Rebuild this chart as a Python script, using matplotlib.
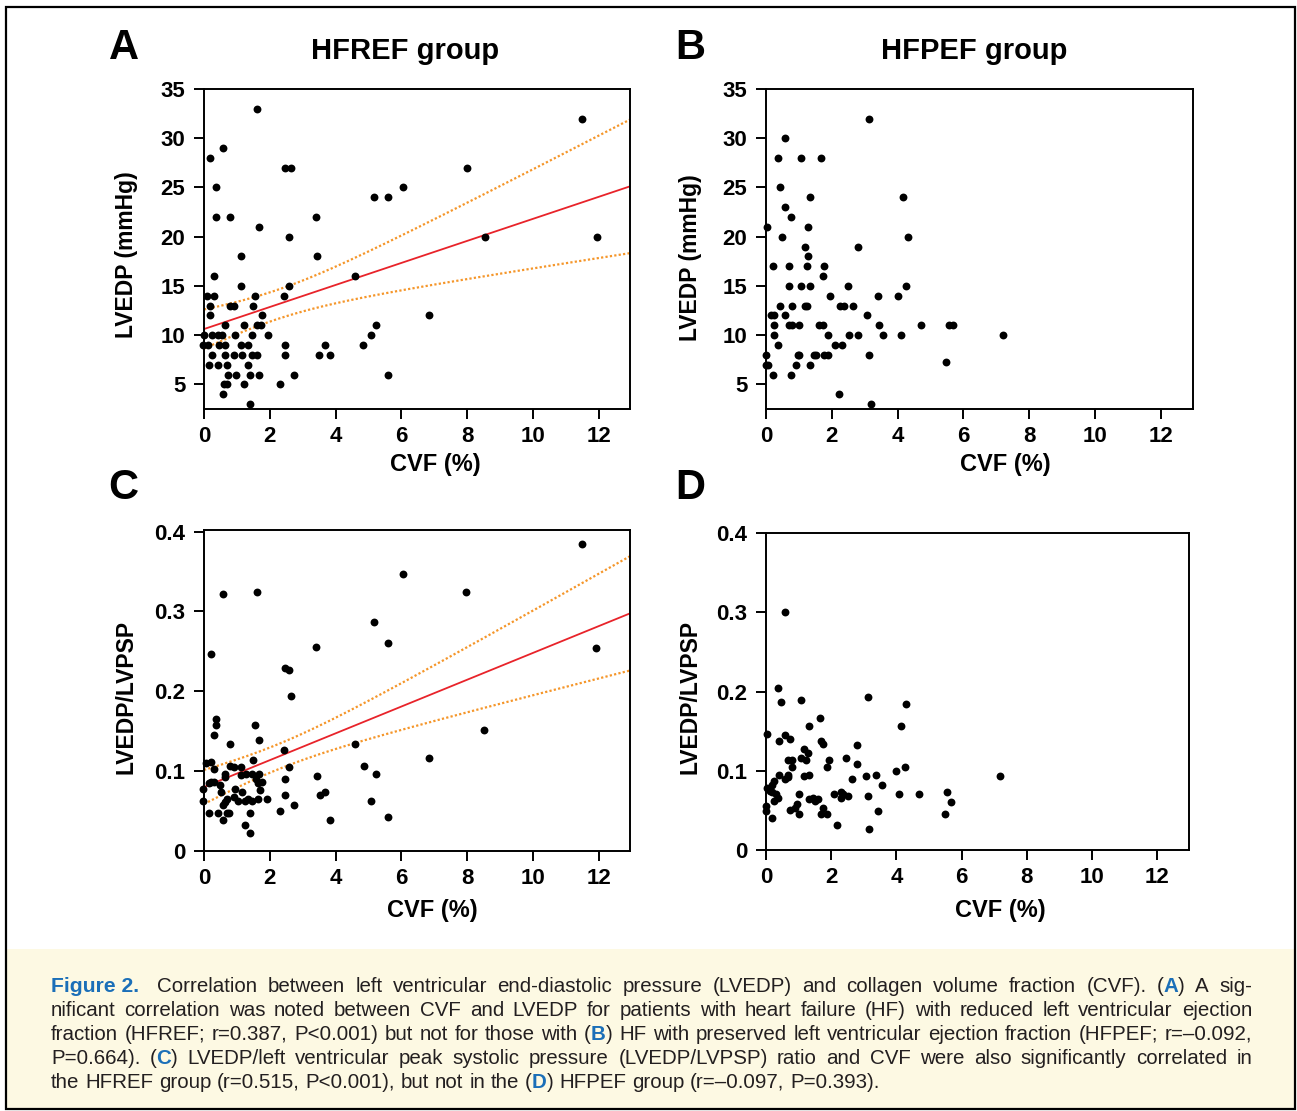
import re
import numpy as np
import matplotlib
matplotlib.use('Agg')
import matplotlib.pyplot as plt
from matplotlib.patches import Rectangle

W, H = 1297, 1111

# ---------------- data ----------------
# Panel A: HFREF, CVF (%) vs LVEDP (mmHg)
hfref_cvf_a = [1.60, 0.58, 0.19, 2.45, 2.63, 0.35, 0.35, 0.78, 1.66, 2.58,
               3.40, 3.44, 1.12, 0.31, 1.12, 2.58, 0.09, 0.31, 1.55, 2.42,
               0.19, 0.78, 0.92, 1.50, 0.19, 1.77, 0.64, 1.23, 1.60, 1.72,
               0.00, 0.25, 0.44, 0.54, 0.95, 1.45, 1.94, -0.03, 0.13, 0.47,
               0.64, 1.12, 1.34, 2.46, 3.67, 0.25, 0.64, 0.91, 1.14, 1.45,
               1.60, 2.47, 3.51, 3.82, 0.14, 0.42, 0.69, 1.34, 0.74, 0.97,
               1.39, 1.66, 2.74, 5.60, 0.61, 0.69, 1.23, 2.31, 0.58, 1.39,
               4.58, 5.18, 5.60, 6.04, 4.84, 5.07, 5.23, 6.85, 8.00, 8.53,
               11.50, 11.94]
hfref_lvedp = [33, 29, 28, 27, 27, 25, 22, 22, 21, 20,
               22, 18, 18, 16, 15, 15, 14, 14, 14, 14,
               13, 13, 13, 13, 12, 12, 11, 11, 11, 11,
               10, 10, 10, 10, 10, 10, 10, 9, 9, 9,
               9, 9, 9, 9, 9, 8, 8, 8, 8, 8,
               8, 8, 8, 8, 7, 7, 7, 7, 6, 6,
               6, 6, 6, 6, 5, 5, 5, 5, 4, 3,
               16, 24, 24, 25, 9, 10, 11, 12, 27, 20,
               32, 20]

# Panel B: HFPEF, CVF (%) vs LVEDP (mmHg)
hfpef_cvf_b = [3.13, 0.58, 0.35, 1.07, 1.67, 0.42, 1.35, 4.15, 0.58, 0.75,
               0.04, 1.28, 0.48, 4.32, 2.81, 1.19, 1.28, 0.20, 0.69, 1.24,
               1.77, 1.72, 0.69, 1.07, 1.35, 2.48, 4.27, 1.94, 3.40, 4.00,
               0.42, 0.80, 1.19, 1.24, 2.26, 2.37, 2.64, 0.14, 0.25, 0.58,
               3.07, 0.25, 0.69, 0.80, 1.01, 1.61, 1.72, 3.45, 4.70, 5.55,
               5.67, 0.25, 1.88, 2.53, 2.81, 3.57, 4.10, 7.19, 0.36, 2.10,
               2.32, 0.00, 0.96, 1.01, 1.45, 1.51, 1.77, 1.88, 3.13, 0.00,
               0.05, 0.91, 1.35, 5.47, 0.20, 0.75, 2.21, 3.18]
hfpef_lvedp = [32, 30, 28, 28, 28, 25, 24, 24, 23, 22,
               21, 21, 20, 20, 19, 19, 18, 17, 17, 17,
               17, 16, 15, 15, 15, 15, 15, 14, 14, 14,
               13, 13, 13, 13, 13, 13, 13, 12, 12, 12,
               12, 11, 11, 11, 11, 11, 11, 11, 11, 11,
               11, 10, 10, 10, 10, 10, 10, 10, 9, 9,
               9, 8, 8, 8, 8, 8, 8, 8, 8, 7,
               7, 7, 7, 7.3, 6, 6, 4, 3]

# Panel C: HFREF, CVF (%) vs LVEDP/LVPSP
hfref_cvf_c = [6.04, 0.58, 1.61, 0.20, 5.18, 5.59, 3.39, 2.46, 2.58, 2.63,
               0.35, 0.36, 0.31, 1.55, 1.66, 0.79, 2.42, 4.58, 1.49, 0.07,
               0.20, 0.29, 0.79, 0.91, 1.13, 0.64, 0.63, 1.12, 1.28, 1.47,
               1.68, 1.58, 2.58, 2.47, 1.76, 1.63, 4.85, 3.44, 5.23, -0.03,
               0.14, 0.21, 0.29, 0.49, 0.95, 1.71, 0.53, 1.17, 3.68, 3.52,
               -0.03, 0.69, 0.91, 1.04, 1.26, 1.34, 1.45, 1.65, 1.93, 0.59,
               0.64, 2.47, 2.74, 5.07, 0.15, 0.42, 0.70, 0.75, 1.39, 2.31,
               0.59, 1.24, 1.39, 3.83, 5.60, 6.85, 7.97, 8.52, 11.49, 11.93]
hfref_ratio = [0.347, 0.322, 0.324, 0.247, 0.287, 0.260, 0.256, 0.229, 0.227, 0.194,
               0.165, 0.158, 0.145, 0.158, 0.139, 0.134, 0.127, 0.134, 0.114, 0.110,
               0.111, 0.103, 0.107, 0.105, 0.105, 0.096, 0.093, 0.095, 0.096, 0.096,
               0.096, 0.090, 0.105, 0.090, 0.087, 0.085, 0.107, 0.094, 0.096, 0.078,
               0.085, 0.087, 0.087, 0.083, 0.078, 0.076, 0.074, 0.074, 0.074, 0.070,
               0.063, 0.065, 0.068, 0.063, 0.063, 0.065, 0.063, 0.065, 0.065, 0.058,
               0.061, 0.070, 0.058, 0.063, 0.048, 0.048, 0.048, 0.048, 0.048, 0.050,
               0.039, 0.032, 0.023, 0.039, 0.043, 0.116, 0.324, 0.152, 0.385, 0.254]

# Panel D: HFPEF, CVF (%) vs LVEDP/LVPSP
hfpef_cvf_d = [0.57, 0.36, 0.46, 1.06, 3.12, 4.30, 1.65, 1.33, 4.13, 0.03,
               0.57, 0.41, 0.74, 1.70, 1.76, 1.17, 1.28, 1.24, 1.06, 0.79,
               0.68, 0.79, 2.79, 1.92, 1.86, 2.46, 2.79, 4.25, 3.98, 0.41,
               0.68, 0.68, 0.57, 1.17, 1.33, 3.07, 3.39, 2.63, 3.55, 7.17,
               0.25, 0.19, 0.13, 0.03, 0.19, 0.30, 0.36, 0.25, 1.01, 2.09,
               2.30, 2.36, 2.53, 2.30, 3.12, 4.09, 4.68, 5.55, 5.67, 1.32,
               1.43, 1.60, 1.49, 0.94, 0.89, 0.74, 1.01, 1.76, 1.70, 1.86,
               3.43, 0.00, 0.00, 0.19, 5.49, 2.19, 3.17]
hfpef_ratio = [0.300, 0.205, 0.187, 0.189, 0.193, 0.184, 0.167, 0.156, 0.156, 0.147,
               0.145, 0.138, 0.140, 0.138, 0.134, 0.127, 0.123, 0.114, 0.116, 0.114,
               0.114, 0.105, 0.132, 0.114, 0.105, 0.116, 0.109, 0.105, 0.100, 0.095,
               0.095, 0.092, 0.089, 0.093, 0.095, 0.093, 0.095, 0.089, 0.082, 0.094,
               0.087, 0.082, 0.075, 0.078, 0.073, 0.071, 0.066, 0.062, 0.071, 0.071,
               0.073, 0.071, 0.068, 0.066, 0.068, 0.071, 0.071, 0.073, 0.060, 0.064,
               0.066, 0.064, 0.062, 0.058, 0.053, 0.051, 0.045, 0.053, 0.046, 0.046,
               0.049, 0.055, 0.049, 0.040, 0.045, 0.031, 0.026]

x_ticks = [0, 2, 4, 6, 8, 10, 12]
lvedp_ticks = [5, 10, 15, 20, 25, 30, 35]
ratio_ticks = [0, 0.1, 0.2, 0.3, 0.4]
ratio_tick_labels = ['0', '0.1', '0.2', '0.3', '0.4']

panel_titles = {'A': 'HFREF group', 'B': 'HFPEF group'}
x_label = 'CVF (%)'
y_label_top = 'LVEDP (mmHg)'
y_label_bottom = 'LVEDP/LVPSP'

caption_lines = [
    "[Figure~2.] Correlation between left ventricular end-diastolic pressure (LVEDP) and collagen volume fraction (CVF). ({A}) A sig-",
    "nificant correlation was noted between CVF and LVEDP for patients with heart failure (HF) with reduced left ventricular ejection",
    "fraction (HFREF; r=0.387, P<0.001) but not for those with ({B}) HF with preserved left ventricular ejection fraction (HFPEF; r=\u20130.092,",
    "P=0.664). ({C}) LVEDP/left ventricular peak systolic pressure (LVEDP/LVPSP) ratio and CVF were also significantly correlated in",
    "the HFREF group (r=0.515, P<0.001), but not in the ({D}) HFPEF group (r=\u20130.097, P=0.393).",
]

# ---------------- styling ----------------
plt.rcParams['font.family'] = ['Liberation Sans', 'DejaVu Sans']
BLUE = '#1b6fb8'
RED = '#e8232a'
ORANGE = '#f5962a'
TXT = '#231f20'

fig = plt.figure(figsize=(W / 100, H / 100), dpi=100)


def px_rect(l, t, r, b):
    return [l / W, 1 - b / H, (r - l) / W, (b - t) / H]


def fx(x):
    return x / W


def fy(y):
    return 1 - y / H


# caption box and outer frame
fig.patches.append(Rectangle((fx(6), fy(1109)), (1295 - 6) / W, (1109 - 949) / H,
                             transform=fig.transFigure, facecolor='#fdf9e3',
                             edgecolor='none', zorder=0))
fig.patches.append(Rectangle((fx(6), fy(1109)), (1295 - 6) / W, (1109 - 7) / H,
                             transform=fig.transFigure, facecolor='none',
                             edgecolor='black', linewidth=1.6, zorder=5))

axA = fig.add_axes(px_rect(204, 89, 630, 409))
axB = fig.add_axes(px_rect(766, 89, 1193, 409))
axC = fig.add_axes(px_rect(204, 530, 630, 851))
axD = fig.add_axes(px_rect(766, 533, 1189, 850))


def style(ax, yticks, ylim, yticklabels=None):
    ax.set_xlim(0, 12.95)
    ax.set_ylim(*ylim)
    ax.set_xticks(x_ticks)
    ax.set_xticklabels([str(t) for t in x_ticks])
    ax.set_yticks(yticks)
    if yticklabels is not None:
        ax.set_yticklabels(yticklabels)
    else:
        ax.set_yticklabels([str(t) for t in yticks])
    ax.tick_params(direction='out', length=7.5, width=1.4, labelsize=16, pad=5,
                   colors='black')
    ax.tick_params(axis='y', pad=6)
    for lbl in ax.get_xticklabels() + ax.get_yticklabels():
        lbl.set_fontweight('bold')
    for sp in ax.spines.values():
        sp.set_linewidth(1.4)


def regression(ax, x, y, x_end):
    x = np.asarray(x, float)
    y = np.asarray(y, float)
    n = len(x)
    slope, inter = np.polyfit(x, y, 1)
    resid = y - (slope * x + inter)
    s = np.sqrt(np.sum(resid ** 2) / (n - 2))
    xbar = x.mean()
    sxx = np.sum((x - xbar) ** 2)
    xs = np.linspace(0, x_end, 200)
    fit = slope * xs + inter
    half = 1.99 * s * np.sqrt(1.0 / n + (xs - xbar) ** 2 / sxx)
    ax.plot(xs, fit, color=RED, lw=1.3, zorder=2)
    ax.plot(xs, fit + half, color=ORANGE, lw=1.6, ls=(0, (1, 1)), zorder=2)
    ax.plot(xs, fit - half, color=ORANGE, lw=1.6, ls=(0, (1, 1)), zorder=2)


def scatter(ax, x, y):
    ax.scatter(x, y, s=32, color='black', linewidths=0, zorder=3, clip_on=False)


style(axA, lvedp_ticks, (2.5, 35))
scatter(axA, hfref_cvf_a, hfref_lvedp)
regression(axA, hfref_cvf_a, hfref_lvedp, 12.95)

style(axB, lvedp_ticks, (2.5, 35))
axB.set_xlim(0, 12.98)
scatter(axB, hfpef_cvf_b, hfpef_lvedp)

style(axC, ratio_ticks, (0, 0.402), ratio_tick_labels)
scatter(axC, hfref_cvf_c, hfref_ratio)
regression(axC, hfref_cvf_c, hfref_ratio, 12.95)

style(axD, ratio_ticks, (0, 0.4), ratio_tick_labels)
axD.set_xlim(0, 12.98)
scatter(axD, hfpef_cvf_d, hfpef_ratio)

# panel letters & titles
for letter, (x, y) in {'A': (124, 48), 'B': (690, 48), 'C': (123, 488), 'D': (690, 488)}.items():
    fig.text(fx(x), fy(y), letter, fontsize=30, fontweight='bold', ha='center', va='center')
fig.text(fx(405), fy(51), panel_titles['A'], fontsize=21, fontweight='bold', ha='center', va='center')
fig.text(fx(974), fy(51), panel_titles['B'], fontsize=21, fontweight='bold', ha='center', va='center')

# axis labels
for (x, y) in [(435, 465), (1005, 465), (432, 910), (1000, 910)]:
    fig.text(fx(x), fy(y), x_label, fontsize=17, fontweight='bold', ha='center', va='center')
fig.text(fx(126), fy(255), y_label_top, fontsize=16.5, fontweight='bold', ha='center',
         va='center', rotation=90)
fig.text(fx(690), fy(258), y_label_top, fontsize=16.5, fontweight='bold', ha='center',
         va='center', rotation=90)
fig.text(fx(126), fy(697), y_label_bottom, fontsize=16.5, fontweight='bold', ha='center',
         va='center', rotation=90)
fig.text(fx(690), fy(697), y_label_bottom, fontsize=16.5, fontweight='bold', ha='center',
         va='center', rotation=90)

# ---------------- caption (justified) ----------------
renderer = fig.canvas.get_renderer()
LEFT, RIGHT = 51, 1252
FIG_EXTRA = 8


def parse_word(word):
    segs = []
    pos = 0
    for m in re.finditer(r'\[([^\]]+)\]|\{([^}]+)\}', word):
        if m.start() > pos:
            segs.append((word[pos:m.start()], 'n'))
        if m.group(1):
            segs.append((m.group(1).replace('~', ' '), 'fig'))
        else:
            segs.append((m.group(2), 'b'))
        pos = m.end()
    if pos < len(word):
        segs.append((word[pos:], 'n'))
    return segs


def make_text(txt, kind, y, fs):
    if kind == 'fig':
        return fig.text(0, fy(y), txt, fontsize=fs + 0.5, fontweight='bold', color=BLUE,
                        va='baseline', ha='left')
    if kind == 'b':
        return fig.text(0, fy(y), txt, fontsize=fs, fontweight='bold', color=BLUE,
                        va='baseline', ha='left')
    return fig.text(0, fy(y), txt, fontsize=fs, fontweight='normal', color=TXT,
                    va='baseline', ha='left')


def space_width(fs):
    t1 = fig.text(0, 0, 'a a', fontsize=fs)
    t2 = fig.text(0, 0, 'aa', fontsize=fs)
    sw = t1.get_window_extent(renderer).width - t2.get_window_extent(renderer).width
    t1.remove()
    t2.remove()
    return sw


def build_line(line, y, fs):
    words = line.split(' ')
    items = []
    total = 0.0
    for wd in words:
        segs = []
        wsum = 0.0
        for txt, kind in parse_word(wd):
            t = make_text(txt, kind, y, fs)
            w = t.get_window_extent(renderer).width
            segs.append((t, w))
            wsum += w
        items.append((segs, wsum))
        total += wsum
    return items, total


# measure pass to choose font size
BASE_FS = 13.0
sw0 = space_width(BASE_FS)
max_ratio = 0.0
for i, line in enumerate(caption_lines[:-1]):
    items, total = build_line(line, 0, BASE_FS)
    natural = total + sw0 * (len(items) - 1) + (FIG_EXTRA if i == 0 else 0)
    max_ratio = max(max_ratio, natural / (RIGHT - LEFT))
    for segs, _ in items:
        for t, _w in segs:
            t.remove()
CAP_FS = BASE_FS * 0.985 / max_ratio
space_w = space_width(CAP_FS)

for i, line in enumerate(caption_lines):
    y = 992 + 24 * i
    items, total = build_line(line, y, CAP_FS)
    justify = i < len(caption_lines) - 1
    if justify:
        gap = (RIGHT - LEFT - total - (FIG_EXTRA if i == 0 else 0)) / (len(items) - 1)
    else:
        gap = space_w
    x = LEFT
    for k, (segs, wsum) in enumerate(items):
        for t, w in segs:
            t.set_x(fx(x))
            x += w
        x += gap
        if k == 0 and i == 0:
            x += FIG_EXTRA

fig.savefig('out.png', dpi=100)
